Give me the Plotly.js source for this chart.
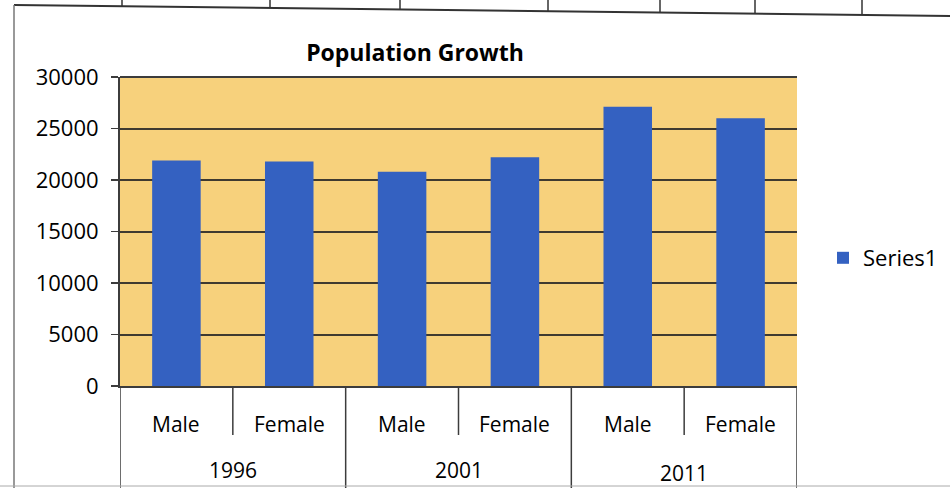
<!DOCTYPE html>
<html>
<head>
<meta charset="utf-8">
<script src="https://cdn.plot.ly/plotly-3.0.1.min.js"></script>
<style>
  html, body { margin: 0; padding: 0; background: #ffffff; }
  #chart { width: 950px; height: 488px; }
</style>
</head>
<body>
<div id="chart"></div>
<script>
// ---- data ----
const chartTitle = 'Population Growth';
const years = ['1996', '2001', '2011'];
const sexes = ['Male', 'Female'];
const values = [21900, 21800, 20800, 22200, 27100, 26000];
const seriesName = 'Series1';
const yTickValues = [0, 5000, 10000, 15000, 20000, 25000, 30000];
const yTickLabels = ['0', '5000', '10000', '15000', '20000', '25000', '30000'];

// ---- derived ----
const categories = [];
years.forEach(y => sexes.forEach(s => categories.push(y + ' ' + s)));

const W = 950, H = 488;
const mL = 120, mR = 153, mT = 77, mB = 102;
const plotW = W - mL - mR, plotH = H - mT - mB;
const px = v => (v - mL) / plotW;          // pixel x -> paper x
const py = v => (H - mB - v) / plotH;      // pixel y -> paper y

const font = 'Open Sans, Lato, Liberation Sans, sans-serif';
const txt = '#000000';
const lineCol = '#3c3c3c';
const wt = 500;

const annotations = [];
categories.forEach((c, i) => {
  annotations.push({
    x: c, xref: 'x', y: 0, yref: 'paper', yshift: -38,
    text: sexes[i % sexes.length], showarrow: false,
    xanchor: 'center', yanchor: 'middle',
    font: { family: font, size: 21, color: txt, weight: wt }
  });
});
years.forEach((yr, j) => {
  annotations.push({
    x: j * sexes.length + (sexes.length - 1) / 2, xref: 'x', y: 0, yref: 'paper',
    yshift: j === years.length - 1 ? -87 : -84,
    text: yr, showarrow: false, xanchor: 'center', yanchor: 'middle',
    font: { family: font, size: 21, color: txt, weight: wt }
  });
});

const shapes = [];
// category separators below the axis
for (let k = 0; k <= categories.length; k++) {
  const xb = k - 0.5;
  const long = (k % sexes.length === 0);
  shapes.push({
    type: 'line', xref: 'x', yref: 'paper',
    x0: xb, x1: xb, y0: 0, y1: long ? py(H) : py(435),
    line: { color: lineCol, width: 1.5 }, layer: 'above'
  });
}
// outer frame and spreadsheet lines
shapes.push({ type: 'line', xref: 'paper', yref: 'paper',
  x0: px(14), x1: px(950), y0: py(5), y1: py(16), line: { color: '#333', width: 2 } });
shapes.push({ type: 'line', xref: 'paper', yref: 'paper',
  x0: px(14), x1: px(14), y0: py(5), y1: py(488), line: { color: '#777', width: 1.5 } });
shapes.push({ type: 'line', xref: 'paper', yref: 'paper',
  x0: px(0), x1: px(950), y0: py(486), y1: py(486), line: { color: '#aaa', width: 1 } });
[122, 270, 400, 548, 660, 755, 862].forEach(xv => {
  const yEnd = 5 + (xv - 14) * 11 / 936;
  shapes.push({ type: 'line', xref: 'paper', yref: 'paper',
    x0: px(xv), x1: px(xv), y0: py(0), y1: py(yEnd), line: { color: '#333', width: 1.5 } });
});
// top border of plot area
shapes.push({ type: 'line', xref: 'paper', yref: 'paper',
  x0: 0, x1: 1, y0: 1, y1: 1, line: { color: lineCol, width: 2 }, layer: 'below' });

const trace = {
  type: 'bar',
  x: categories,
  y: values,
  name: seriesName,
  marker: { color: '#3461c1', line: { width: 0 } },
  showlegend: true
};

const layout = {
  width: W, height: H,
  margin: { l: mL, r: mR, t: mT, b: mB, pad: 0, autoexpand: false },
  paper_bgcolor: '#ffffff',
  plot_bgcolor: '#f7d17c',
  bargap: 0.57,
  title: {
    text: chartTitle,
    x: 415 / W, xanchor: 'center',
    y: 1 - 53 / H, yanchor: 'middle',
    font: { family: font, size: 23, color: txt, weight: 'bold' }
  },
  xaxis: {
    type: 'category',
    range: [-0.5, categories.length - 0.5],
    showticklabels: false,
    ticks: '',
    showgrid: false,
    showline: true, linecolor: lineCol, linewidth: 2,
    zeroline: false,
    fixedrange: true
  },
  yaxis: {
    range: [0, 30000],
    tickvals: yTickValues,
    ticktext: yTickLabels,
    ticks: 'outside', ticklen: 7, tickwidth: 1.5, tickcolor: lineCol,
    ticklabelstandoff: 8,
    showline: true, linecolor: lineCol, linewidth: 2,
    showgrid: true, gridcolor: '#3f3a30', gridwidth: 2,
    zeroline: false,
    tickfont: { family: font, size: 22, color: txt, weight: wt },
    fixedrange: true
  },
  legend: {
    x: px(823), xanchor: 'left',
    y: py(258), yanchor: 'middle',
    bgcolor: 'rgba(0,0,0,0)',
    font: { family: font, size: 22, color: txt, weight: wt },
    itemwidth: 30
  },
  annotations: annotations,
  shapes: shapes
};

Plotly.newPlot('chart', [trace], layout, { displayModeBar: false, staticPlot: true });
</script>
</body>
</html>
